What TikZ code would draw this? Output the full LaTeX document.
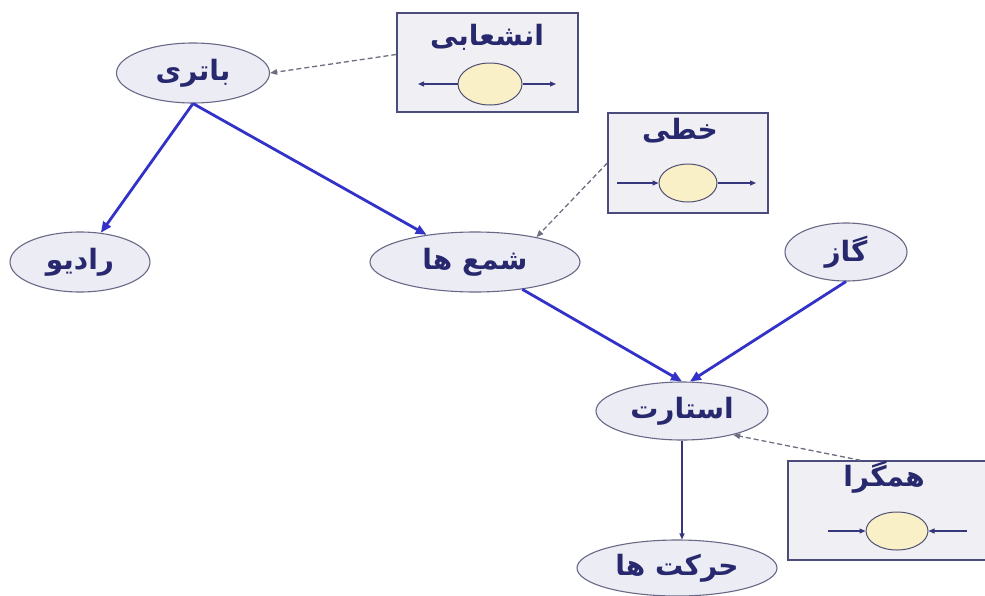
\documentclass[tikz,border=0pt]{standalone}
\usepackage{fontspec}
\newfontfamily\arabicfont[Script=Arabic]{DejaVu Sans}
\TeXXeTstate=1
\usetikzlibrary{shapes.geometric,arrows.meta,calc}
\definecolor{elline}{RGB}{105,105,135}
\definecolor{elfill}{RGB}{236,236,245}
\definecolor{txt}{RGB}{40,40,110}
\definecolor{boxline}{RGB}{76,76,124}
\definecolor{boxfill}{RGB}{240,240,244}
\definecolor{smfill}{RGB}{250,240,200}
\definecolor{smline}{RGB}{80,80,115}
\definecolor{mainblue}{RGB}{50,50,200}
\definecolor{thinline}{RGB}{55,55,125}
\definecolor{dashgray}{RGB}{110,110,130}
\begin{document}
\begin{tikzpicture}[x=1pt,y=-1pt,
  el/.style={ellipse, draw=elline, fill=elfill, line width=1.1pt, inner sep=0pt,
    font=\arabicfont\bfseries\fontsize{28}{32}\selectfont, text=txt},
  boxnode/.style={rectangle, draw=boxline, fill=boxfill, line width=1.4pt, inner sep=0pt},
  ttl/.style={inner sep=0pt, font=\arabicfont\bfseries\fontsize{28}{32}\selectfont, text=txt},
  smallel/.style={ellipse, draw=smline, fill=smfill, line width=1pt, inner sep=0pt},
  mainarrow/.style={draw=mainblue, line width=2.8pt, -{Triangle[length=11pt,width=9pt]}},
  thinarrow/.style={draw=thinline, line width=1.2pt, -{Triangle[length=6pt,width=5pt]}},
  dasharrow/.style={draw=dashgray, line width=1.3pt, dash pattern=on 5pt off 3pt, -{Triangle[length=7pt,width=5.5pt]}}]
\clip (0,0) rectangle (985,595);
\fill[white] (0,0) rectangle (985,595);

% boxes
\node[boxnode, minimum width=181pt, minimum height=99pt] (boxA) at (487.5,62.5) {};
\node[boxnode, minimum width=160pt, minimum height=100pt] (boxK) at (688,163) {};
\node[boxnode, minimum width=202pt, minimum height=99pt] (boxH) at (889,510.5) {};

\node[ttl] (tA) at (487,37) {\beginR انشعابی\endR};
\node[ttl] (tK) at (680,131) {\beginR خطی\endR};
\node[ttl] (tH) at (884,477) {\beginR همگرا\endR};

\node[smallel, minimum width=64pt, minimum height=42pt] (sA) at (490,84) {};
\node[smallel, minimum width=58pt, minimum height=38pt] (sK) at (688,183) {};
\node[smallel, minimum width=62pt, minimum height=38pt] (sH) at (897,531) {};

\coordinate (aAl) at (418,84);
\coordinate (aAr) at (556,84);
\coordinate (aKl) at (617,183);
\coordinate (aKr) at (756,183);
\coordinate (aHl) at (828,531);
\coordinate (aHr) at (967,531);
\draw[thinarrow] (sA.west) -- (aAl);
\draw[thinarrow] (sA.east) -- (aAr);
\draw[thinarrow] (aKl) -- (sK.west);
\draw[thinarrow] (sK.east) -- (aKr);
\draw[thinarrow] (aHl) -- (sH.west);
\draw[thinarrow] (aHr) -- (sH.east);

% main nodes
\node[el, minimum width=153pt, minimum height=60pt] (bat) at (193,73) {\beginR باتری\endR};
\node[el, minimum width=140pt, minimum height=60pt] (rad) at (80,262) {\beginR رادیو\endR};
\node[el, minimum width=210pt, minimum height=60pt] (sham) at (475,262) {\beginR شمع ها\endR};
\node[el, minimum width=122pt, minimum height=58pt] (gaz) at (846,252) {\beginR گاز\endR};
\node[el, minimum width=172pt, minimum height=58pt] (start) at (682,411) {\beginR استارت\endR};
\node[el, minimum width=200pt, minimum height=56pt] (hark) at (677,568) {\beginR حرکت ها\endR};

% connectors
\draw[mainarrow] (bat.south) -- (rad);
\draw[mainarrow] (bat.south) -- (sham);
\draw[mainarrow] (sham.-30) -- (start.north);
\draw[mainarrow] (gaz.south) -- (start.75);
\draw[thinarrow] (start.south) -- (start.south |- hark.north);

% dashed
\coordinate (dA) at ($(boxA.north west)!0.42!(boxA.south west)$);
\draw[dasharrow] (dA) -- (bat.east);
\draw[dasharrow] (boxK.west) -- (sham.22);
\coordinate (dH) at ($(boxH.north west)!0.36!(boxH.north east)$);
\draw[dasharrow] (dH) -- (start.-25);
\end{tikzpicture}
\end{document}
